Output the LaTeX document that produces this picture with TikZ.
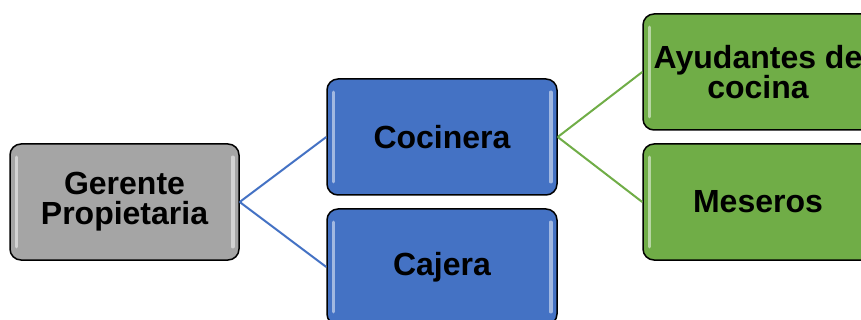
\documentclass[tikz,border=0pt]{standalone}
\usepackage{fontspec}
\setmainfont{Liberation Sans}
\definecolor{graybox}{HTML}{A5A5A5}
\definecolor{bluebox}{HTML}{4472C4}
\definecolor{greenbox}{HTML}{70AD47}
\begin{document}
\begin{tikzpicture}[x=1pt,y=-1pt,
  orgbox/.style={draw=black, line width=1.5pt, rounded corners=11pt,
    minimum width=230pt, minimum height=116pt, inner sep=0pt, align=center,
    font=\fontsize{32}{30}\selectfont\bfseries},
  graynode/.style={orgbox, fill=graybox},
  bluenode/.style={orgbox, fill=bluebox},
  greennode/.style={orgbox, fill=greenbox},
  shine/.style={draw=white, line width=3.5pt, line cap=round, opacity=0.5},
  blueline/.style={draw=bluebox, line width=2pt},
  greenline/.style={draw=greenbox, line width=2pt}]
\useasboundingbox (0,0) rectangle (861,320);
\clip (0,0) rectangle (861,320);
\node[graynode, minimum width=229pt] (ger) at (124.5,202) {Gerente\\Propietaria};
\node[bluenode] (coc) at (442,137) {Cocinera};
\node[bluenode] (caj) at (442,267) {Cajera};
\node[greennode] (ayu) at (758,72) {Ayudantes de\\cocina};
\node[greennode] (mes) at (758,202) {Meseros};
\foreach \n in {ger,coc,caj,ayu,mes}{
  \draw[shine] ([xshift=7pt,yshift=-14pt]\n.north west) -- ([xshift=7pt,yshift=14pt]\n.south west);
  \draw[shine] ([xshift=-7pt,yshift=-14pt]\n.north east) -- ([xshift=-7pt,yshift=14pt]\n.south east);
}
\draw[blueline] (ger.east) -- (coc.west);
\draw[blueline] (ger.east) -- (caj.west);
\draw[greenline] (coc.east) -- (ayu.west);
\draw[greenline] (coc.east) -- (mes.west);
\end{tikzpicture}
\end{document}
